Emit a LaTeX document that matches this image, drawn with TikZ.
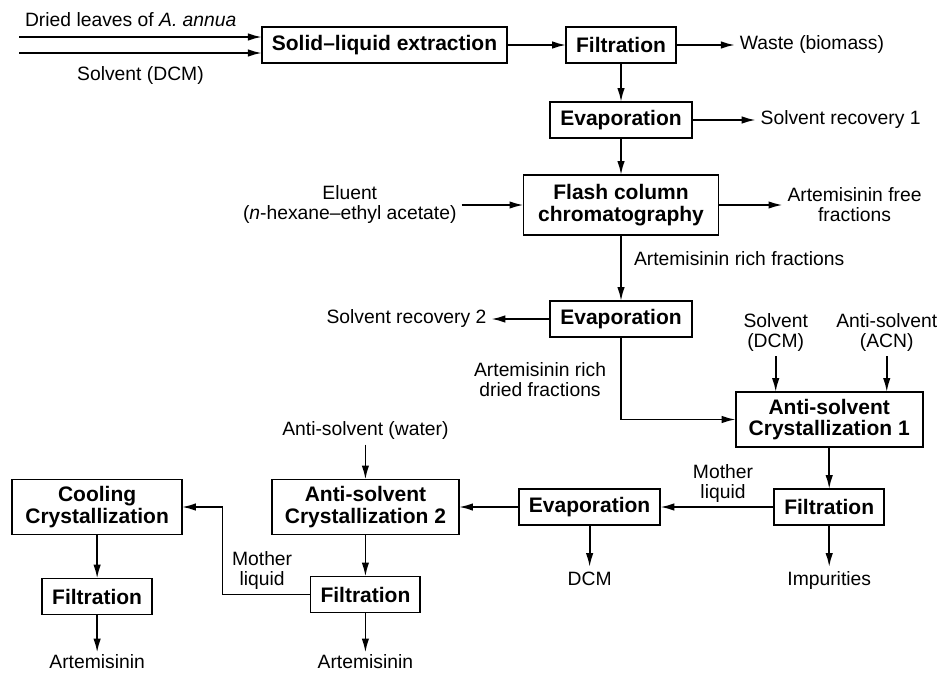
\documentclass[tikz,border=0pt]{standalone}
\usepackage{fontspec}
\setmainfont{Liberation Sans}
\usetikzlibrary{arrows.meta,positioning}
\newcommand{\procfont}{\fontsize{21}{21.5}\selectfont\bfseries}
\newcommand{\lblfont}{\fontsize{19.3}{20}\selectfont}

\begin{document}
\begin{tikzpicture}[>={Latex[length=14pt,width=7.5pt]}, x=1pt, y=-1pt, line width=1.8pt,
    proc/.style={draw, line width=1.8pt, outer sep=0pt, font=\procfont, align=center, inner xsep=10pt, minimum height=36pt},
    proc2/.style={proc, inner xsep=13pt, minimum height=55pt},
    lbl/.style={font=\lblfont, align=center, inner sep=5pt, outer sep=0pt},
    prod/.style={lbl, inner ysep=2pt, text depth=0pt}]
    \useasboundingbox (0,0) rectangle (941,672);

    \node[proc]     (extract)                                          at (384.5,45) {Solid--liquid extraction};
    \node[proc]     (filter1)  [right=59pt of extract]                  {Filtration};
    \node[lbl]      (waste)    [right=59pt of filter1]                  {Waste (biomass)};
    \node[proc]     (evap1)    [below=39pt of filter1]                  {Evaporation};
    \node[lbl]      (recov1)   [right=64pt of evap1]                    {Solvent recovery 1};
    \node[proc2, minimum width=195pt, minimum height=60pt]
                    (flash)    [below=37pt of evap1]                    {Flash column\\chromatography};
    \node[lbl]      (free)     [right=64pt of flash]                    {Artemisinin free\\fractions};
    \node[lbl]      (eluent)   [left=62pt of flash]                     {Eluent\\(\textit{n}-hexane--ethyl acetate)};
    \node[proc]     (evap2)    [below=66pt of flash]                    {Evaporation};
    \node[lbl]      (recov2)   [left=59pt of evap2]                     {Solvent recovery 2};
    \node[proc2]    (cryst1)   [below right=55pt and 44pt of evap2]     {Anti-solvent\\Crystallization 1};
    \node[lbl]      (dcm1)     [above=36pt of cryst1.north west, xshift=40pt]  {Solvent\\(DCM)};
    \node[lbl]      (acn)      [above=36pt of cryst1.north east, xshift=-36pt] {Anti-solvent\\(ACN)};
    \node[proc]     (filter2)  [below=42pt of cryst1]                   {Filtration};
    \node[lbl]      (impur)    [below=42pt of filter2]                  {Impurities};
    \node[proc]     (evap3)    [left=114pt of filter2]                  {Evaporation};
    \node[lbl]      (dcm2)     [below=42pt of evap3]                    {DCM};
    \node[proc2]    (cryst2)   [left=60pt of evap3]                     {Anti-solvent\\Crystallization 2};
    \node[lbl]      (water)    [above=35pt of cryst2]                   {Anti-solvent (water)};
    \node[proc]     (filter3)  [below=42pt of cryst2]                   {Filtration};
    \node[prod]     (prod2)    [below=40pt of filter3]                  {Artemisinin};
    \node[proc2]    (cooling)  [left=90pt of cryst2]                    {Cooling\\Crystallization};
    \node[proc]     (filter4)  [below=44pt of cooling]                  {Filtration};
    \node[prod]     (prod1)    [below=38pt of filter4]                  {Artemisinin};

    \coordinate (feed1) at (19,37);
    \coordinate (feed2) at (19,53);

    \path[->]   (feed1)   edge   node[lbl, above=5pt, pos=0.46]  {Dried leaves of \textit{A. annua}}  (feed1 -| extract.west)
                (feed2)   edge   node[lbl, below=9pt]            {Solvent (DCM)}                      (feed2 -| extract.west)
                (extract) edge   (filter1)
                (filter1) edge   (waste)
                          edge   (evap1)
                (evap1)   edge   (recov1)
                          edge   (flash)
                (eluent)  edge   (flash)
                (flash)   edge   (free)
                          edge   node[lbl, right=8pt, pos=0.35]  {Artemisinin rich fractions}   (evap2)
                (evap2)   edge   (recov2)
                (dcm1)    edge   (dcm1 |- cryst1.north)
                (acn)     edge   (acn |- cryst1.north)
                (cryst1)  edge   (filter2)
                (filter2) edge   (impur)
                          edge   node[lbl, above, pos=0.45]     {Mother\\liquid}               (evap3)
                (evap3)   edge   (dcm2)
                          edge   (cryst2)
                (water)   edge   (cryst2)
                (cryst2)  edge   (filter3)
                (filter3) edge   (prod2)
                (cooling) edge   (filter4)
                (filter4) edge   (prod1);

    \draw[->] (evap2) |- node[lbl, left=10pt, pos=0.26] {Artemisinin rich\\dried fractions} (cryst1);
    \draw[->] (filter3.west) -- node[lbl, above, pos=0.55] {Mother\\liquid} ++(-88,0) |- (cooling);
\end{tikzpicture}
\end{document}
